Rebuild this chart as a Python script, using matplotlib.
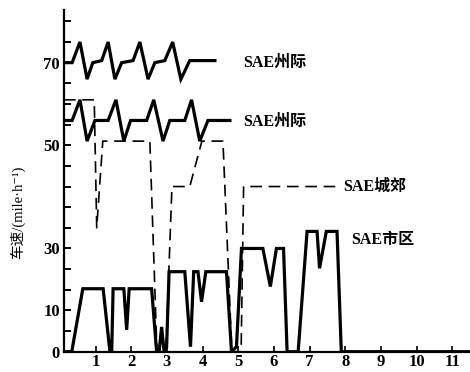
import numpy as np
import matplotlib
matplotlib.use("Agg")
import matplotlib.pyplot as plt
from matplotlib.ticker import FixedLocator, NullFormatter

plt.rcParams['font.family'] = ['Liberation Serif', 'Noto Sans CJK SC']

# Drive-cycle speed traces, time on x, speed in mile/h on y
interstate_hi_t = [0.11, 0.34, 0.56, 0.76, 0.92, 1.17, 1.35, 1.54, 1.73, 2.05, 2.24,
                   2.47, 2.66, 2.94, 3.16, 3.39, 3.64, 4.39]
interstate_hi_v = [70, 70, 75, 66, 70, 70.5, 75, 66, 70, 70.5, 75,
                   66, 70, 70.5, 75, 66, 70.5, 70.5]

interstate_lo_t = [0.14, 0.34, 0.56, 0.76, 0.98, 1.35, 1.57, 1.79, 1.98, 2.43, 2.63,
                   2.89, 3.08, 3.50, 3.69, 3.92, 4.15, 4.81]
interstate_lo_v = [56, 56, 61, 51, 56, 56, 61, 51, 56, 56, 61,
                   51, 56, 56, 61, 51, 56, 56]

suburban_t = [0.11, 0.96, 1.03, 1.20, 2.52, 2.72, 2.97, 3.14, 3.64, 3.98, 4.57,
              4.82, 5.08, 5.15, 7.76]
suburban_v = [61, 61, 34, 51, 51, 0, 0, 42, 42, 51, 51,
              0, 0, 42, 42]

urban_t = [0.11, 0.33, 0.64, 1.21, 1.40, 1.45, 1.49, 1.79, 1.87, 1.94, 2.57,
           2.71, 2.78, 2.85, 2.92, 2.99, 3.06, 3.50, 3.66, 3.75, 3.87, 3.97,
           4.09, 4.67, 4.81, 4.95, 5.09, 5.69, 5.90, 6.07, 6.27, 6.37, 6.68,
           6.93, 7.21, 7.28, 7.47, 7.77, 7.89, 11.5]
urban_v = [0, 0, 17, 17, 0, 0, 17, 17, 5.3, 17, 17,
           0, 0, 6, 0, 1, 22.5, 22.5, 1.2, 22.5, 22.5, 12.8,
           22.5, 22.5, 0, 1.2, 30, 30, 17.7, 30, 30, 0, 0,
           33.3, 33.3, 23.6, 33.3, 33.3, 0, 0]

curve_labels = ["SAE州际", "SAE州际", "SAE城郊", "SAE市区"]
label_t = [5.13, 5.13, 7.93, 8.18]
label_v = [70, 55.6, 42, 31.6]

x_ticks = list(range(1, 12))
y_ticks = [0, 10, 30, 50, 70]

# The speed axis is graduated unevenly: labelled values sit on these tick steps
speed_knots = [0, 10, 30, 50, 70, 90]
step_knots = [0, 2, 5, 10, 14, 18]


def to_step(v):
    return np.interp(v, speed_knots, step_knots)


def to_speed(s):
    return np.interp(s, step_knots, speed_knots)


fig = plt.figure(figsize=(4.7, 3.72), dpi=100)
ax = fig.add_axes([0.136, 0.0546, 0.864, 0.9185])
ax.set_yscale('function', functions=(to_step, to_speed))

solid = dict(color='black', lw=2.3, solid_joinstyle='miter', solid_capstyle='butt')
ax.plot(interstate_hi_t, interstate_hi_v, **solid)
ax.plot(interstate_lo_t, interstate_lo_v, **solid)
ax.plot(urban_t, urban_v, **solid)
ax.plot(suburban_t, suburban_v, color='black', lw=1.2, dashes=(7, 4))

for txt, t, v in zip(curve_labels, label_t, label_v):
    ax.text(t, v, txt, ha='left', va='center', fontsize=11.5, fontweight='bold')

ax.set_xlim(0.11, 11.5)
ax.set_ylim(0, to_speed(16.55))

for side in ('top', 'right'):
    ax.spines[side].set_visible(False)
ax.spines['left'].set_linewidth(1.6)
ax.spines['bottom'].set_linewidth(1.6)

ax.xaxis.set_major_locator(FixedLocator(x_ticks))
ax.set_xticklabels([str(t) for t in x_ticks], fontsize=12, fontweight='bold')
ax.yaxis.set_major_locator(FixedLocator(y_ticks))
ax.set_yticklabels([str(t) for t in y_ticks], fontsize=12, fontweight='bold')
minor_steps = [1, 3, 4, 6, 7, 8, 9, 11, 12, 13, 15, 16]
ax.yaxis.set_minor_locator(FixedLocator([float(to_speed(s)) for s in minor_steps]))
ax.yaxis.set_minor_formatter(NullFormatter())

ax.tick_params(axis='x', direction='in', length=4, width=1.2, pad=2)
ax.tick_params(axis='y', which='both', direction='in', length=5, width=1.4, pad=3)

fig.text(0.038, 0.43, "车速/(mile·h⁻¹)", rotation=90, ha='center', va='center',
         fontsize=10.5, family=['Liberation Serif', 'Noto Sans CJK SC', 'DejaVu Sans'])

fig.savefig('out.png', dpi=100)
